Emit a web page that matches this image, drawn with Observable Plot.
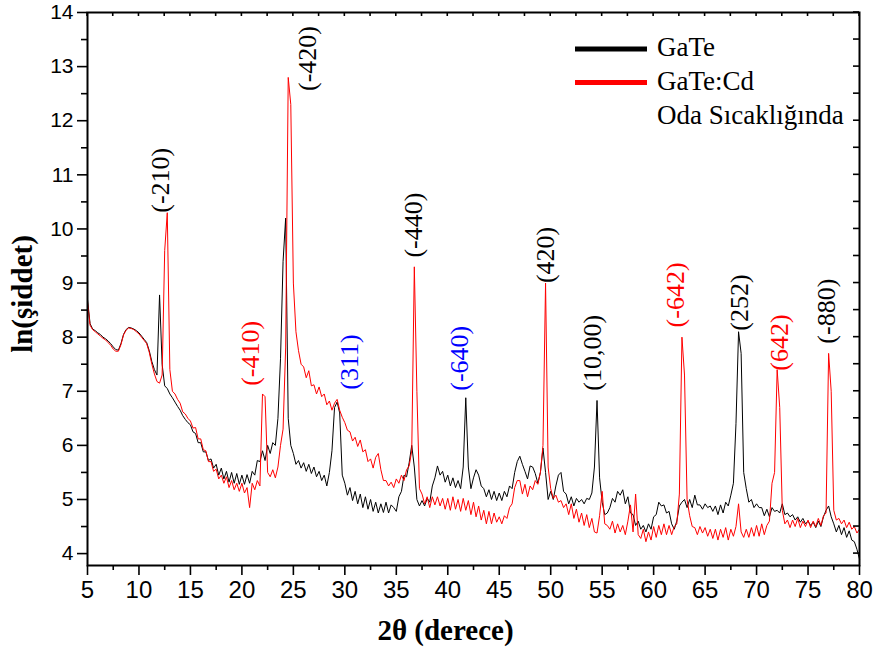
<!DOCTYPE html>
<html><head><meta charset="utf-8">
<script src="https://cdn.jsdelivr.net/npm/d3@7"></script>
<script src="https://cdn.jsdelivr.net/npm/@observablehq/plot@0.6"></script>
<style>body{margin:0;background:#fff;} #chart{position:relative;width:876px;height:649px;}</style>
</head><body><div id="chart"></div>
<script>
// 2θ sampling grid (degrees), 0.25° step from 5 to 80
const twoTheta = d3.range(0, 301).map(i => 5 + i * 0.25);

// ln(intensity), one row = 5 degrees
const gaTe = [
  8.70, 8.25, 8.15, 8.12, 8.08, 8.05, 8.00, 7.97, 7.93, 7.88, 7.82, 7.77, 7.76, 7.88, 8.05, 8.14, 8.18, 8.17, 8.15, 8.12,
  8.08, 8.02, 7.96, 7.90, 7.75, 7.55, 7.40, 7.30, 8.78, 7.50, 7.10, 7.05, 6.95, 6.88, 6.80, 6.72, 6.65, 6.55, 6.48, 6.42,
  6.38, 6.25, 6.22, 6.05, 6.05, 5.88, 5.88, 5.72, 5.75, 5.58, 5.65, 5.45, 5.58, 5.38, 5.52, 5.32, 5.50, 5.30, 5.48, 5.28,
  5.45, 5.28, 5.46, 5.30, 5.52, 5.45, 5.72, 5.70, 5.90, 5.72, 6.00, 5.85, 6.05, 6.00, 6.50, 7.60, 9.40, 10.20, 6.50, 6.00,
  5.85, 5.65, 5.72, 5.58, 5.68, 5.52, 5.65, 5.48, 5.60, 5.42, 5.52, 5.35, 5.45, 5.25, 5.50, 5.90, 6.70, 6.80, 6.60, 5.45,
  5.30, 5.08, 5.22, 4.98, 5.15, 4.92, 5.10, 4.85, 5.05, 4.82, 5.00, 4.78, 4.95, 4.75, 4.92, 4.76, 4.95, 4.75, 4.90, 4.85,
  4.78, 5.05, 5.15, 5.45, 5.42, 5.68, 6.00, 5.60, 5.00, 4.88, 4.98, 4.88, 5.02, 4.95, 5.25, 5.40, 5.62, 5.45, 5.52, 5.32,
  5.45, 5.25, 5.40, 5.22, 5.35, 5.20, 5.60, 6.88, 5.60, 5.20, 5.40, 5.55, 5.45, 5.25, 5.20, 5.05, 5.18, 5.00, 5.15, 4.98,
  5.12, 4.98, 5.15, 5.05, 5.25, 5.20, 5.50, 5.70, 5.80, 5.65, 5.52, 5.38, 5.62, 5.60, 5.48, 5.30, 5.50, 5.95, 5.50, 5.00,
  5.15, 5.00, 5.25, 5.45, 5.50, 5.15, 5.10, 4.92, 5.05, 4.88, 5.02, 4.95, 5.00, 4.92, 5.02, 5.00, 5.12, 5.60, 6.83, 5.40,
  4.95, 4.72, 4.75, 4.85, 5.02, 4.95, 5.15, 5.08, 5.18, 4.92, 5.05, 4.75, 4.72, 4.52, 4.60, 4.45, 4.52, 4.40, 4.55, 4.45,
  4.68, 4.72, 4.95, 4.88, 4.90, 4.75, 4.78, 4.55, 4.45, 4.60, 4.88, 4.95, 5.00, 4.85, 5.00, 4.85, 5.08, 4.90, 4.90, 4.82,
  4.92, 4.85, 4.88, 4.78, 4.88, 4.72, 4.90, 4.75, 4.95, 4.88, 5.08, 5.30, 6.40, 8.10, 7.70, 5.50, 5.20, 4.95, 5.00, 4.85,
  4.92, 4.85, 4.85, 4.70, 4.82, 4.68, 4.85, 4.78, 4.80, 4.75, 4.92, 4.72, 4.75, 4.68, 4.72, 4.62, 4.68, 4.58, 4.65, 4.55,
  4.60, 4.52, 4.58, 4.48, 4.60, 4.50, 4.68, 4.80, 4.88, 4.68, 4.55, 4.40, 4.52, 4.35, 4.48, 4.30, 4.42, 4.25, 4.22, 4.08,
  3.90
];

const gaTeCd = [
  8.65, 8.22, 8.14, 8.10, 8.06, 8.02, 7.98, 7.95, 7.90, 7.85, 7.78, 7.74, 7.74, 7.86, 8.04, 8.13, 8.17, 8.16, 8.14, 8.10,
  8.06, 8.00, 7.94, 7.88, 7.72, 7.50, 7.32, 7.18, 7.15, 7.30, 9.60, 10.30, 7.40, 7.00, 6.95, 6.85, 6.78, 6.62, 6.58, 6.50,
  6.45, 6.32, 6.33, 6.12, 6.12, 5.92, 5.90, 5.70, 5.70, 5.52, 5.56, 5.38, 5.45, 5.30, 5.42, 5.22, 5.35, 5.18, 5.30, 5.15,
  5.30, 5.12, 5.22, 4.85, 5.30, 5.18, 5.35, 5.25, 6.95, 6.90, 5.50, 5.42, 5.55, 5.40, 5.60, 6.00, 6.30, 7.80, 12.80, 12.30,
  9.00, 8.10, 7.75, 7.50, 7.45, 7.25, 7.38, 7.10, 7.12, 6.95, 7.08, 6.90, 6.95, 6.75, 6.82, 6.65, 6.78, 6.85, 6.65, 6.52,
  6.42, 6.28, 6.25, 6.08, 6.15, 5.98, 6.10, 5.88, 5.92, 5.70, 5.75, 5.58, 5.78, 5.85, 5.55, 5.35, 5.35, 5.25, 5.32, 5.22,
  5.38, 5.30, 5.45, 5.35, 5.55, 5.62, 5.90, 9.30, 7.00, 5.20, 5.10, 4.92, 5.05, 4.85, 5.05, 4.90, 5.05, 4.88, 5.02, 4.82,
  5.02, 4.80, 5.05, 4.82, 5.00, 4.78, 5.02, 4.80, 4.98, 4.72, 4.95, 4.68, 4.88, 4.62, 4.80, 4.55, 4.78, 4.55, 4.75, 4.58,
  4.68, 4.55, 4.70, 4.65, 4.85, 4.92, 5.22, 5.35, 5.35, 5.10, 5.28, 5.05, 5.25, 5.18, 5.35, 5.28, 5.50, 6.00, 9.00, 5.60,
  5.20, 5.02, 5.08, 4.95, 4.98, 4.85, 4.92, 4.72, 4.92, 4.65, 4.82, 4.58, 4.75, 4.52, 4.72, 4.48, 4.65, 4.40, 4.38, 4.70,
  5.15, 4.55, 4.52, 4.45, 4.60, 4.38, 4.55, 4.40, 4.52, 4.35, 4.60, 4.90, 4.40, 5.10, 4.35, 4.28, 4.45, 4.22, 4.40, 4.25,
  4.50, 4.30, 4.52, 4.35, 4.55, 4.35, 4.52, 4.35, 4.50, 4.55, 5.10, 8.00, 7.30, 5.00, 4.70, 4.50, 4.48, 4.35, 4.50, 4.38,
  4.48, 4.32, 4.45, 4.28, 4.45, 4.25, 4.45, 4.30, 4.48, 4.25, 4.45, 4.32, 4.50, 4.92, 4.40, 4.30, 4.45, 4.30, 4.48, 4.32,
  4.52, 4.32, 4.55, 4.35, 4.52, 4.60, 5.30, 5.50, 7.40, 6.70, 4.80, 4.55, 4.62, 4.48, 4.62, 4.50, 4.65, 4.48, 4.60, 4.50,
  4.62, 4.48, 4.60, 4.50, 4.65, 4.52, 4.70, 4.75, 7.70, 7.00, 4.80, 4.62, 4.65, 4.55, 4.62, 4.48, 4.58, 4.45, 4.50, 4.38,
  4.45
];

// Peak annotations
const peakLabels = ["(-210)", "(-420)", "(-410)", "(311)", "(-440)", "(-640)", "(420)", "(10,00)", "(-642)", "(252)", "(642)", "(-880)"];
const peakX      = [12.1, 26.4, 20.9, 30.5, 36.7, 41.2, 49.5, 54.1, 62.1, 68.4, 72.2, 76.85];
const peakY      = [10.3, 12.55, 7.1, 7.03, 9.47, 7.01, 9.0, 7.01, 8.18, 8.12, 7.38, 7.88];
const peakPhase  = ["GaTe", "GaTe", "Cd", "other", "GaTe", "other", "GaTe", "GaTe", "Cd", "GaTe", "Cd", "GaTe"];

const seriesNames = ["GaTe", "GaTe:Cd"];
const legendNote = "Oda Sıcaklığında";
const xTitle = "2θ (derece)";
const yTitle = "ln(şiddet)";
const xTicks = [5, 10, 15, 20, 25, 30, 35, 40, 45, 50, 55, 60, 65, 70, 75, 80];
const yTicks = [4, 5, 6, 7, 8, 9, 10, 11, 12, 13, 14];

// ---- drawing ----
const serif = "'Liberation Serif','Times New Roman',serif";
const sans = "'Liberation Sans Narrow','Arial Narrow','Liberation Sans',Arial,sans-serif";
const phaseColor = {GaTe: "#000000", Cd: "#ff0000", other: "#0000ff"};
const seriesColor = ["#000000", "#ff0000"];

const rows = twoTheta.map((x, i) => ({x, a: gaTe[i], b: gaTeCd[i]}));
const labels = peakLabels.map((t, i) => ({t, x: peakX[i], y: peakY[i], phase: peakPhase[i]}));
const xMinor = xTicks.slice(0, -1).map(v => v + 2.5);
const yMinor = yTicks.slice(0, -1).map(v => v + 0.5);

const labelMarks = Object.keys(phaseColor).map(ph =>
  Plot.text(labels.filter(d => d.phase === ph), {
    x: "x", y: "y", text: "t", rotate: -90, textAnchor: "start", lineAnchor: "middle",
    fill: phaseColor[ph], fontFamily: serif, fontSize: 26
  })
);

const chart = Plot.plot({
  width: 876, height: 649,
  marginLeft: 87, marginRight: 17, marginTop: 12, marginBottom: 84,
  x: {domain: [5, 80]},
  y: {domain: [3.78, 14]},
  style: {background: "#fff", overflow: "visible", fontFamily: sans, color: "#000"},
  marks: [
    Plot.line(rows, {x: "x", y: "a", stroke: seriesColor[0], strokeWidth: 1}),
    Plot.line(rows, {x: "x", y: "b", stroke: seriesColor[1], strokeWidth: 1}),
    ...labelMarks,
    Plot.frame({stroke: "#000", strokeWidth: 2}),
    Plot.axisX(xTicks, {anchor: "bottom", tickSize: 10, tickPadding: 5, strokeWidth: 1.6, fontSize: 24, fontFamily: sans, label: null, tickFormat: d => String(d)}),
    Plot.axisX(xMinor, {anchor: "bottom", tickSize: 5, strokeWidth: 1.6, tickFormat: () => "", label: null}),
    Plot.axisY(yTicks, {anchor: "left", tickSize: 10, tickPadding: 4, strokeWidth: 1.6, fontSize: 21, fontFamily: sans, label: null, tickFormat: d => String(d)}),
    Plot.axisY(yMinor, {anchor: "left", tickSize: 6, strokeWidth: 1.6, tickFormat: () => "", label: null}),
    Plot.text([xTitle], {text: d => d, frameAnchor: "bottom", dx: -28, dy: 65, textAnchor: "middle", lineAnchor: "middle",
      fontFamily: serif, fontWeight: "bold", fontSize: 29, fill: "#000"}),
    Plot.text([yTitle], {text: d => d, frameAnchor: "left", dx: -65, dy: 5, rotate: -90, textAnchor: "middle", lineAnchor: "middle",
      fontFamily: serif, fontWeight: "bold", fontSize: 29, fill: "#000"})
  ]
});
document.getElementById("chart").appendChild(chart);

// inner ticks on top and right edges, placed with the plot's own scales
const sx = chart.scale("x"), sy = chart.scale("y");
const svg = d3.select(chart);
const [yb, yt] = sy.range;
const [xl, xr] = sx.range;
const inner = svg.append("g").attr("stroke", "#000").attr("stroke-width", 1.6);
xTicks.concat(xMinor).forEach(v => {
  const px = sx.apply(v);
  inner.append("line").attr("x1", px).attr("x2", px).attr("y1", yt).attr("y2", yt + 4);
});
yTicks.concat(yMinor).forEach(v => {
  const py = sy.apply(v);
  inner.append("line").attr("x1", xr).attr("x2", xr - 6).attr("y1", py).attr("y2", py);
});

// legend
const leg = svg.append("g").attr("font-family", serif).attr("font-size", 27)
  .attr("fill", "#000").attr("text-anchor", "start");
seriesNames.forEach((name, i) => {
  const cy = 49 + i * 33.5;
  leg.append("line").attr("x1", 575).attr("x2", 647).attr("y1", cy).attr("y2", cy)
    .attr("stroke", seriesColor[i]).attr("stroke-width", 5);
  leg.append("text").attr("x", 657).attr("y", cy + 7).text(name);
});
leg.append("text").attr("x", 657).attr("y", 124).text(legendNote);
</script>
</body></html>
